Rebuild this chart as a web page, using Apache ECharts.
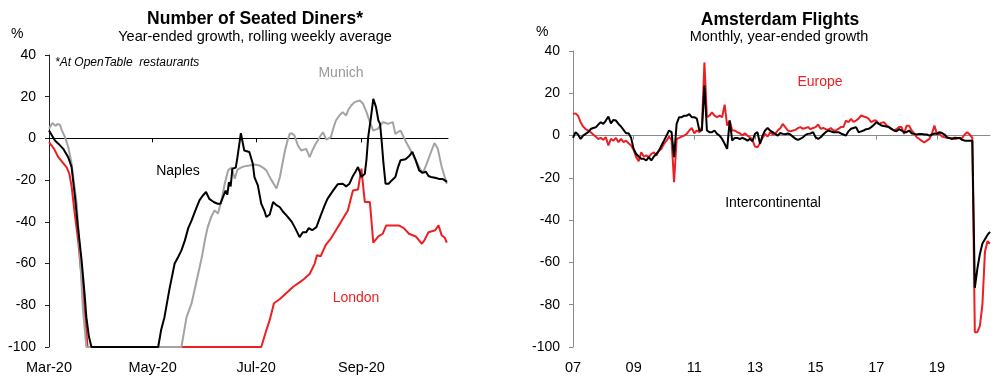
<!DOCTYPE html>
<html><head><meta charset="utf-8">
<script src="https://cdn.jsdelivr.net/npm/echarts@6/dist/echarts.min.js"></script>
<style>html,body{margin:0;padding:0;background:#fff}#c{width:1008px;height:387px}</style>
</head><body><div id="c"></div>
<script>
// ---------- Left chart: Number of Seated Diners (x = days since 1 Mar 2020) ----------
const dinerTickDays = [0, 61, 122, 184];
const dinerTickLabels = ['Mar-20', 'May-20', 'Jul-20', 'Sep-20'];
const dinerMaxDay = 235;
const yTicksMin = -100, yTicksMax = 40, yTickStep = 20;

const london = [[0,-1.8],[3,-5],[5.5,-9],[8,-11.5],[10.5,-14],[12,-17],[13.3,-23],[15,-35],[17.3,-50],[19,-65],[21,-82],[22.7,-100],
[125,-100],[128,-92],[130,-87],[132.5,-79],[136,-77],[140,-74],[144,-71],[147.6,-69],[150,-67.5],[153.5,-65],[156.5,-60],[157.8,-56],[160,-56.5],[163,-51],[166,-48],[169,-44],[172,-40],[176,-34.5],[179,-25],[182,-24.5],[184,-14.5],[186,-30.5],[189,-30.5],[191,-50],[194,-47],[196.6,-45.7],[198.6,-41.7],[206,-41.7],[209,-43],[212,-45.7],[216,-47],[219.6,-50.5],[221,-49],[223.5,-45],[227.5,-44],[229.4,-41.7],[231.3,-46.5],[233,-47.5],[234.3,-50]];

const naples = [[0,3.8],[3.5,-1],[5.5,-2.5],[8.4,-5],[11.3,-9],[13.3,-13.7],[15.3,-28],[17,-42],[19.2,-58.5],[21,-75],[22,-85.7],[23.5,-95],[25,-100],
[64.3,-100],[66,-92],[68,-85.7],[71,-72],[74,-60],[76,-57],[78,-53.7],[80,-49],[82,-43],[84,-39.3],[86,-35],[88.6,-29.7],[90.5,-27.5],[92.5,-25.7],[94.4,-29],[97,-30.5],[99.3,-31.3],[101,-31.3],[102.5,-28],[104,-25],[105,-27],[106,-21],[107,-23],[108,-14.5],[110,-14],[111,-9],[113,2.5],[115,-5.8],[118,-6.5],[120,-12],[121,-18.5],[123,-22.5],[125,-31.3],[127,-35],[128,-37.7],[130,-36.5],[132,-30.5],[134,-32],[136,-33],[138,-35.3],[140,-37],[143,-40],[145,-43],[147.6,-47.3],[149.5,-45],[151.5,-45],[153,-43],[155,-44],[157.5,-42.5],[160,-37],[162.4,-32],[164,-29],[167.3,-25],[170,-22],[173,-21.7],[175,-23],[177,-21.7],[179,-18],[180.5,-16],[182,-13.7],[184,-18.5],[186,-17],[187,-10],[188,0.6],[189.6,10],[191,19],[192.6,15],[194,8.6],[195,7],[196,-2],[197,-12],[198.2,-21.7],[200,-21.7],[202,-20],[204,-18.5],[205.5,-14],[207,-10.5],[210,-10],[212,-8.6],[214,-6.5],[216,-10.5],[218,-15.3],[220,-16.5],[222,-16],[223.5,-18],[225,-18.5],[228,-19],[230,-19.5],[232,-19.5],[234.4,-20.8]];

const munich = [[0,4.6],[2,7.4],[4,6],[5,7],[6.5,6.5],[7.5,4],[9.4,0.6],[11.3,-4],[13.3,-12],[14.5,-20],[16.3,-31],[18.2,-55],[20,-82],[22,-100],
[78,-100],[81,-85.7],[84,-79],[87,-68],[90,-57],[92,-48],[93.5,-42.5],[95.5,-37.7],[97.5,-34.5],[99.5,-36],[101.6,-29.7],[103.5,-21.7],[105.5,-15.3],[107.5,-14],[109.4,-19.3],[111,-15],[113,-14],[115,-13.4],[118,-13],[121,-12.5],[124,-13],[126,-14],[128,-15.3],[129.5,-17.7],[131,-20],[134,-24],[136,-18.5],[137.5,-12],[139,-5.8],[140.5,-1],[141.8,2.2],[143,2.5],[144.5,1.5],[146.6,-3.4],[148.6,-5.8],[151.5,-5],[153.5,-9],[155,-6],[156.5,-3.4],[159.4,0.6],[161.3,3],[163.4,-0.6],[166,0.6],[167.5,5],[169,8.6],[171,11],[173,12.6],[175,11],[176.5,14],[178,15.8],[180,17.4],[183,18.2],[185,16.6],[187,12.6],[189,7.8],[191,3.8],[193.6,4.6],[196.6,7.8],[198,7.5],[199.6,7],[202.5,7.8],[204,2.2],[207,3.8],[210.4,-1.8],[213,-5.8],[216,-10.5],[219,-15.3],[220.5,-16],[222,-13],[225,-6.5],[227,-2.2],[229,-5],[231.3,-13.7],[234.3,-21.7]];

// ---------- Right chart: Amsterdam Flights, monthly from Jan 2007 ----------
const flightStartYear = 2007;
const flightEndYear = 2020.75;
const flightTickYears = [2007, 2009, 2011, 2013, 2015, 2017, 2019];
const flightTickLabels = ['07', '09', '11', '13', '15', '17', '19'];

const europe = [
10.2,10.5,9.4,6.3,4.3,3.1,2.4,1.6,0.5,-0.5,-1.6,-1.1,
-2,-0.8,-4.7,-1.6,-2.4,-1.1,-3.1,-1.6,-3.1,-2.4,-3.6,-4.7,
-6.8,-10.2,-12.1,-7.9,-9.9,-9.4,-10.2,-8.7,-7.9,-9.4,-7.1,-6.3,
-3.9,-2.4,-0.5,-2,-22,-1.6,-1.1,-0.5,0,0.8,2.4,3.6,
1.1,2.4,1.6,3.9,34.6,8.7,9.4,11,9.4,8.7,9.4,8.7,
14.6,4.7,7.1,2.4,2.4,1.6,1.1,0,1.1,0,-0.8,-2,
-5.2,-5.5,-3.6,-1.1,0.8,-0.5,1.6,0.5,0.8,2.4,
3.5,5.5,4.0,2.4,2.0,2.4,2.7,3.5,4.0,3.2,3.6,4.0,
3.0,3.6,4.0,5.2,3.2,3.6,3.0,2.7,3.6,2.4,2.4,3.2,
4.0,4.0,7.1,6.3,7.9,6.5,7.1,8.0,9.5,9.0,8.7,7.9,
6.3,7.1,7.1,5.5,6.0,6.3,5.0,4.0,3.2,2.4,3.0,4.0,
4.0,0.8,4.7,4.7,2.4,1.0,-0.8,-1.6,-2.5,-3.2,-2.4,-1.6,
0.8,4.7,0.8,0.8,-0.5,-0.8,-1.1,-1.1,-1.4,-1.6,-1.4,-1.1,
-1.1,0.5,1.6,0.5,-1,-93,-93,-90,-80,-55,-50,-51];

const intercontinental = [
-1.1,1.6,0.5,-1.6,0,0.8,1.6,3.1,3.6,3.9,5.2,6.3,
5.5,7.1,9,5.8,7.4,7.1,5.5,4.3,2.7,1.1,1.1,-1.1,
-6.3,-8.7,-9.9,-11,-11,-11.8,-10.2,-11.8,-9.9,-8.7,-7.1,-4.7,
-2.4,0,2.4,1.6,-10.2,5.5,8.7,8.7,9.4,9.4,10.2,8.7,
8.7,8,2.4,2.4,23.6,2.4,1.6,1.6,2.4,0.8,0,-1.6,
-3.9,-6.3,7.1,-2.4,-1.1,-1.1,-1.6,-1.1,-1.6,-2.4,-1.6,-2.7,
0.8,1.6,-3.9,0,2.4,3.6,2.4,1.6,0.8,0,
1.2,0.8,0.6,1.0,0.5,-0.5,-1.5,-2.0,-1.5,-0.8,0.3,0.8,
1.0,1.6,-0.8,-1.6,-0.8,0.5,1.6,2.4,2.0,1.6,1.6,1.6,
1.0,0.5,0,2.0,3.2,3.6,4.0,1.6,2.0,2.4,3.0,3.2,
4.0,5.0,6.3,5.5,4.8,4.5,4.3,4.0,3.2,2.4,2.0,3.0,
2.4,1.6,1.6,2.4,1.0,0.8,0.5,0.8,0.8,0.5,0.5,0,
0.5,1.0,0.8,1.6,1.2,0.5,-0.8,-1.2,-1.6,-1.0,-1.2,-1.2,
-2.0,-2.4,-2.4,-2.4,-2.4,-72,-63,-56,-51,-49,-47,-45.5];

const RED = '#ee1f23', GREY = '#a3a3a3', BLACK = '#000000';
const FONT = '"Liberation Sans", Arial, sans-serif';

function monthly(arr) { return arr.map((v, i) => [flightStartYear + i / 12, v]); }

function yAxisFor(grid, axisColor) {
  return {
    type: 'value', gridIndex: grid, min: yTicksMin, max: yTicksMax, interval: yTickStep,
    axisLine: { show: true, lineStyle: { color: axisColor, width: 1 } },
    axisTick: { show: true, length: 4, lineStyle: { color: axisColor } },
    axisLabel: { color: '#000', fontSize: 14, fontFamily: FONT, margin: 13 },
    splitLine: { show: false }
  };
}

const chart = echarts.init(document.getElementById('c'), null, { renderer: 'canvas' });
chart.setOption({
  animation: false,
  backgroundColor: '#fff',
  grid: [
    { left: 49, top: 55, width: 399, height: 292 },
    { left: 573, top: 51, width: 417, height: 296 }
  ],
  xAxis: [
    { type: 'value', gridIndex: 0, min: 0, max: dinerMaxDay,
      axisLine: { onZero: true, lineStyle: { color: '#000', width: 1 } },
      axisTick: { show: true, customValues: dinerTickDays.slice(1), length: 4, lineStyle: { color: '#000' } },
      axisLabel: { show: false }, splitLine: { show: false } },
    { type: 'value', gridIndex: 0, min: 0, max: dinerMaxDay, position: 'bottom',
      axisLine: { show: false, onZero: false }, axisTick: { show: false },
      axisLabel: { show: true, customValues: dinerTickDays, color: '#000', fontSize: 14.5, fontFamily: FONT, margin: 13,
        formatter: v => dinerTickLabels[dinerTickDays.indexOf(Math.round(v))] || '' },
      splitLine: { show: false } },
    { type: 'value', gridIndex: 1, min: flightStartYear, max: flightEndYear,
      axisLine: { onZero: true, lineStyle: { color: '#8a8a8a', width: 1 } },
      axisTick: { show: true, customValues: flightTickYears.slice(1), length: 4, lineStyle: { color: '#8a8a8a' } },
      axisLabel: { show: false }, splitLine: { show: false } },
    { type: 'value', gridIndex: 1, min: flightStartYear, max: flightEndYear, position: 'bottom',
      axisLine: { show: false, onZero: false }, axisTick: { show: false },
      axisLabel: { show: true, customValues: flightTickYears, color: '#000', fontSize: 14.5, fontFamily: FONT, margin: 13,
        formatter: v => flightTickLabels[flightTickYears.indexOf(Math.round(v))] || '' },
      splitLine: { show: false } }
  ],
  yAxis: [ yAxisFor(0, '#222'), yAxisFor(1, '#8a8a8a') ],
  series: [
    { name: 'London', type: 'line', xAxisIndex: 0, yAxisIndex: 0, data: london, showSymbol: false,
      lineStyle: { color: RED, width: 2 }, z: 2 },
    { name: 'Munich', type: 'line', xAxisIndex: 0, yAxisIndex: 0, data: munich, showSymbol: false,
      lineStyle: { color: GREY, width: 2 }, z: 3 },
    { name: 'Naples', type: 'line', xAxisIndex: 0, yAxisIndex: 0, data: naples, showSymbol: false,
      lineStyle: { color: BLACK, width: 2 }, z: 4 },
    { name: 'Europe', type: 'line', xAxisIndex: 2, yAxisIndex: 1, data: monthly(europe), showSymbol: false,
      lineStyle: { color: RED, width: 2 }, z: 2 },
    { name: 'Intercontinental', type: 'line', xAxisIndex: 2, yAxisIndex: 1, data: monthly(intercontinental), showSymbol: false,
      lineStyle: { color: BLACK, width: 2 }, z: 3 }
  ],
  graphic: [
    { type: 'text', x: 255, y: 19.5, style: { text: 'Number of Seated Diners*', font: 'bold 17.5px ' + FONT, fill: '#000', align: 'center', verticalAlign: 'middle' } },
    { type: 'text', x: 255, y: 37, style: { text: 'Year-ended growth, rolling weekly average', font: '14.5px ' + FONT, fill: '#000', align: 'center', verticalAlign: 'middle' } },
    { type: 'text', x: 11, y: 34, style: { text: '%', font: '14px ' + FONT, fill: '#000', align: 'left', verticalAlign: 'middle' } },
    { type: 'text', x: 55, y: 63, style: { text: '*At OpenTable  restaurants', font: 'italic 12px ' + FONT, fill: '#000', align: 'left', verticalAlign: 'middle' } },
    { type: 'text', x: 341, y: 73, style: { text: 'Munich', font: '14px ' + FONT, fill: '#999', align: 'center', verticalAlign: 'middle' } },
    { type: 'text', x: 178, y: 171, style: { text: 'Naples', font: '14px ' + FONT, fill: '#000', align: 'center', verticalAlign: 'middle' } },
    { type: 'text', x: 356, y: 298, style: { text: 'London', font: '14px ' + FONT, fill: RED, align: 'center', verticalAlign: 'middle' } },
    { type: 'text', x: 780, y: 20, style: { text: 'Amsterdam Flights', font: 'bold 17.5px ' + FONT, fill: '#000', align: 'center', verticalAlign: 'middle' } },
    { type: 'text', x: 779, y: 37, style: { text: 'Monthly, year-ended growth', font: '14.5px ' + FONT, fill: '#000', align: 'center', verticalAlign: 'middle' } },
    { type: 'text', x: 536, y: 32, style: { text: '%', font: '14px ' + FONT, fill: '#000', align: 'left', verticalAlign: 'middle' } },
    { type: 'text', x: 820, y: 82, style: { text: 'Europe', font: '14px ' + FONT, fill: RED, align: 'center', verticalAlign: 'middle' } },
    { type: 'text', x: 773, y: 203, style: { text: 'Intercontinental', font: '14px ' + FONT, fill: '#000', align: 'center', verticalAlign: 'middle' } }
  ]
});
</script>
</body></html>
